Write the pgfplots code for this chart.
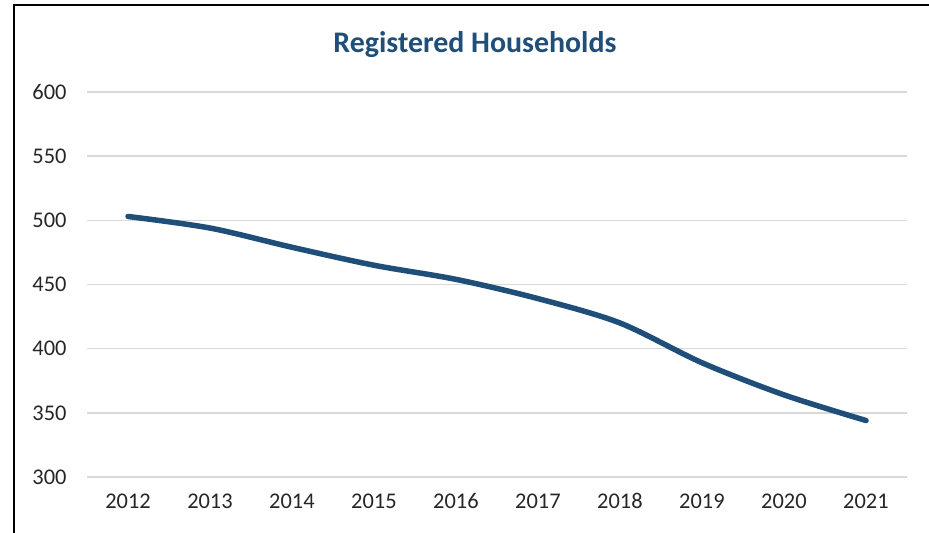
\documentclass[border=0pt]{standalone}
\usepackage{fontspec}
\setmainfont{Carlito}
\usepackage{pgfplots}
\pgfplotsset{compat=1.18}
\definecolor{lineblue}{HTML}{1F4E79}
\definecolor{gridgray}{HTML}{D9D9D9}
\definecolor{ticktext}{HTML}{262626}

\begin{document}
\begin{tikzpicture}[x=1bp,y=1bp]
    \useasboundingbox (0,0) rectangle (929,533);
    % frame of the chart area (cut off at right and bottom)
    \draw[line width=2.5bp, black] (14,0) -- (14,528) -- (929,528);
    % title
    \node[anchor=base, font=\fontsize{30}{34}\selectfont\bfseries, text=lineblue]
        at (475,480) {Registered Households};
    \begin{axis}[
        at={(87bp,56bp)},
        anchor=south west,
        scale only axis,
        width=820bp,
        height=385bp,
        xmin=2011.5, xmax=2021.5,
        ymin=300, ymax=600,
        xtick={2012,...,2021},
        ytick={300,350,...,600},
        ymajorgrids,
        grid style={color=gridgray, line width=1.6bp},
        axis line style={draw=none},
        tick style={draw=none},
        major tick length=0pt,
        /pgf/number format/1000 sep={},
        /pgf/number format/assume math mode=true,
        tick label style={font=\fontsize{22.5}{26}\selectfont, text=ticktext},
        xticklabel style={yshift=-13bp},
        yticklabel style={xshift=-17bp},
        clip=false
    ]
    % Registered households per year
    \addplot[lineblue, line width=5.5bp, line cap=round, line join=round, smooth, tension=0.5] coordinates {
        (2012,503) (2013,494) (2014,479) (2015,465) (2016,454)
        (2017,439) (2018,420) (2019,389) (2020,364) (2021,344)
    };
    \end{axis}
\end{tikzpicture}
\end{document}
